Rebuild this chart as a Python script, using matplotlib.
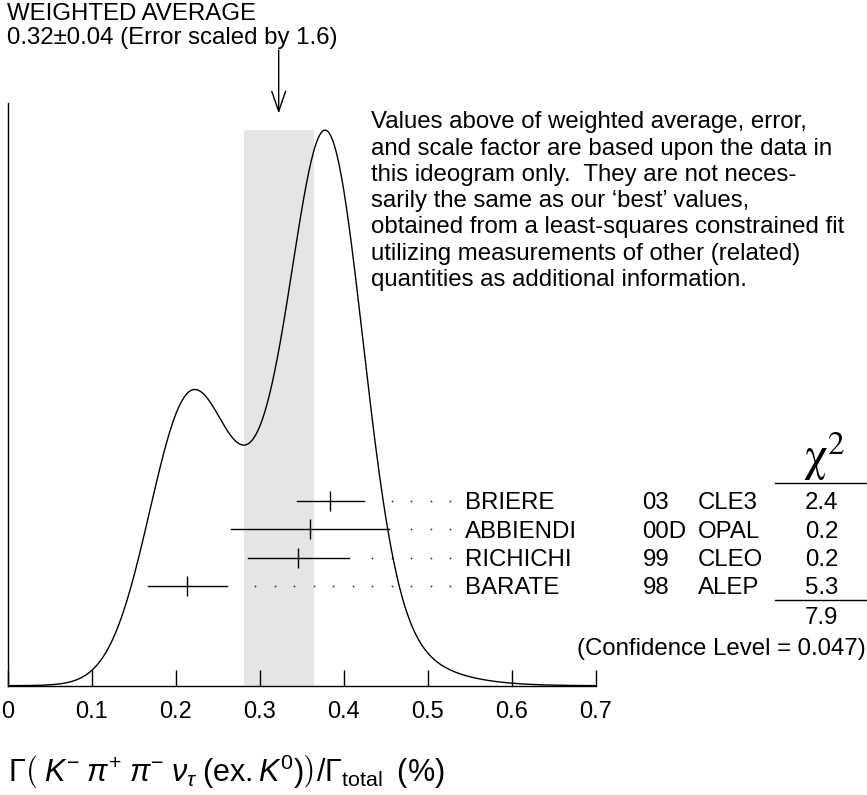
import numpy as np
import matplotlib
matplotlib.use("Agg")
import matplotlib.pyplot as plt
from matplotlib.transforms import blended_transform_factory

# ---------------- data ----------------
names = ["BRIERE", "ABBIENDI", "RICHICHI", "BARATE"]
years = ["03", "00D", "99", "98"]
expts = ["CLE3", "OPAL", "CLEO", "ALEP"]
values = [0.384, 0.360, 0.346, 0.214]
errors = [0.040, 0.094, 0.060, 0.047]
chi2_labels = ["2.4", "0.2", "0.2", "5.3"]
chi2_total = "7.9"
conf_level = "0.047"
scale_factor = 1.6
avg_text = "0.32\u00b10.04 (Error scaled by 1.6)"
xtick_vals = [0.0, 0.1, 0.2, 0.3, 0.4, 0.5, 0.6, 0.7]
xtick_labels = ["0", "0.1", "0.2", "0.3", "0.4", "0.5", "0.6", "0.7"]
note_lines = [
    "Values above of weighted average, error,",
    "and scale factor are based upon the data in",
    "this ideogram only.  They are not neces-",
    "sarily the same as our \u2018best\u2019 values,",
    "obtained from a least-squares constrained fit",
    "utilizing measurements of other (related)",
    "quantities as additional information.",
]

plt.rcParams["font.family"] = ["Liberation Sans", "DejaVu Sans"]
plt.rcParams["mathtext.fontset"] = "custom"
plt.rcParams["mathtext.rm"] = "Liberation Sans"
plt.rcParams["mathtext.it"] = "Liberation Sans:italic"
plt.rcParams["mathtext.bf"] = "Liberation Sans:bold"

FS = 17.3
W, H = 867, 795
fig = plt.figure(figsize=(W / 100, H / 100), dpi=100)


def fx(x):
    return x / W


def fy(y):
    return 1 - y / H


# axes geometry (pixels)
X0, X1 = 7.5, 596.0
YB, YT = 685.7, 102.7
ax = fig.add_axes([fx(X0), fy(YB), fx(X1) - fx(X0), (YB - YT) / H])

vals = np.array(values)
errs = np.array(errors)

# ideogram: each measurement a Gaussian of area proportional to 1/sigma
xg = np.linspace(0, 0.7, 1400)
ideo = np.zeros_like(xg)
for v, e in zip(vals, errs):
    ideo += (1 / e) * np.exp(-0.5 * ((xg - v) / e) ** 2) / (e * np.sqrt(2 * np.pi))
peak = ideo.max()
ax.set_xlim(0, 0.7)
ax.set_ylim(0, peak / 0.953)

# weighted average band
w = 1 / errs ** 2
avg = np.sum(w * vals) / np.sum(w)
aerr = scale_factor / np.sqrt(np.sum(w))
ax.fill_between([avg - aerr, avg + aerr], 0, peak, color="#e5e5e5", lw=0, zorder=0)

ax.plot(xg, ideo, color="black", lw=1.0, zorder=3)

# measurements
tr = blended_transform_factory(ax.transData, ax.transAxes)
row_px = [500.7, 529.0, 557.7, 586.0]
dot_end = (450 - X0) / (X1 - X0) * 0.7
dot_step = 19.5 / (X1 - X0) * 0.7
gap = 15 / (X1 - X0) * 0.7
for v, e, rp in zip(vals, errs, row_px):
    yf = (YB - rp) / (YB - YT)
    ax.plot([v - e, v + e], [yf, yf], color="black", lw=1.0, transform=tr, zorder=4)
    ax.plot([v], [yf], marker="|", ms=14.5, mew=1.0, color="black", transform=tr, zorder=4)
    dx = []
    d = dot_end
    while d > v + e + gap:
        dx.append(d)
        d -= dot_step
    ax.plot(dx, [yf] * len(dx), ls="none", marker="o", ms=1.3, mew=0,
            color="#333333", transform=tr, zorder=2)

# axes styling
for s in ["top", "right"]:
    ax.spines[s].set_visible(False)
ax.spines["left"].set_linewidth(1.0)
ax.spines["bottom"].set_linewidth(1.0)
ax.set_yticks([])
ax.set_xticks(xtick_vals)
ax.set_xticklabels(xtick_labels, fontsize=17)
ax.tick_params(axis="x", direction="in", length=11.5, width=1.0, pad=11)
ax.patch.set_alpha(0)

# x label
fig.text(fx(8), fy(772),
         r"$\Gamma\left(\;K^{-}\;\pi^{+}\;\pi^{-}\;\nu_{\tau}\;(\mathrm{ex.}K^{0})\right)/\Gamma_{\mathrm{total}}\;\;(\%)$",
         fontsize=22, ha="left", va="center")

# header
fig.text(fx(7.3), fy(20), "WEIGHTED AVERAGE", fontsize=FS, ha="left", va="baseline")
fig.text(fx(7.3), fy(44), avg_text, fontsize=FS, ha="left", va="baseline")

# arrow
ax_x_px = X0 + avg / 0.7 * (X1 - X0)
fig.add_artist(matplotlib.patches.FancyArrowPatch(
    (fx(ax_x_px), fy(50)), (fx(ax_x_px), fy(113.5)), transform=fig.transFigure,
    arrowstyle="->,head_length=1.45,head_width=0.5", mutation_scale=10,
    color="black", lw=1.0, shrinkA=0, shrinkB=0))

# note paragraph
for i, line in enumerate(note_lines):
    fig.text(fx(371), fy(128.3 + i * 26.3), line, fontsize=FS, ha="left", va="baseline")

# table rows
cap_off = 8.5
for n, yr, ex, c2, rp in zip(names, years, expts, chi2_labels, row_px):
    yb = fy(rp + cap_off)
    fig.text(fx(465), yb, n, fontsize=FS, ha="left", va="baseline")
    fig.text(fx(642.5), yb, yr, fontsize=FS, ha="left", va="baseline")
    fig.text(fx(698), yb, ex, fontsize=FS, ha="left", va="baseline")
    fig.text(fx(821.5), yb, c2, fontsize=FS, ha="center", va="baseline")

# chi2 header and lines
fig.text(fx(824), fy(471), r"$\mathrm{\chi}^2$", fontsize=34, ha="center", va="baseline",
         math_fontfamily="stix")
fig.add_artist(plt.Line2D([fx(775), fx(867)], [fy(483.3), fy(483.3)], color="black",
                          lw=1.0, transform=fig.transFigure))
fig.add_artist(plt.Line2D([fx(775), fx(867)], [fy(600), fy(600)], color="black",
                          lw=1.0, transform=fig.transFigure))
fig.text(fx(821.5), fy(616 + cap_off), chi2_total, fontsize=FS, ha="center", va="baseline")
fig.text(fx(865.5), fy(646 + cap_off), "(Confidence Level = " + conf_level + ")",
         fontsize=FS, ha="right", va="baseline")

fig.savefig("out.png", dpi=100)
